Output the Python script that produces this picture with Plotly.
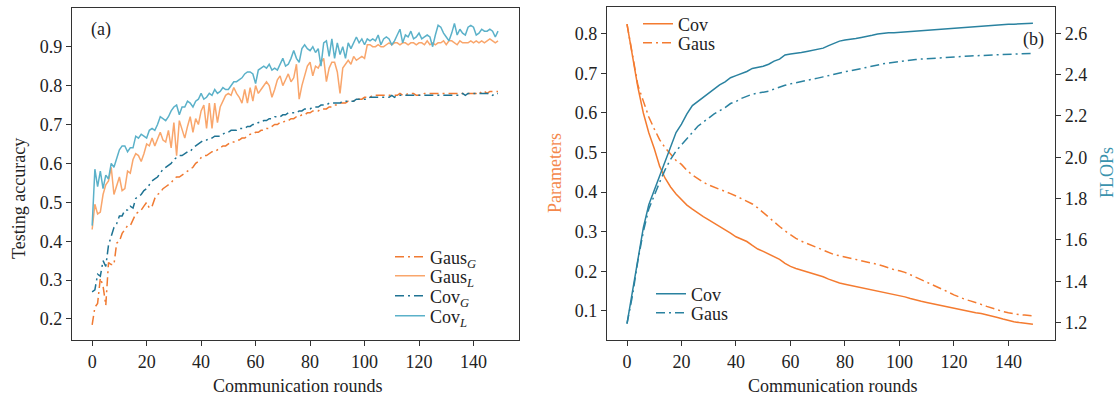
import plotly.graph_objects as go

# ---------------- data ----------------
rounds = list(range(150))

gaus_g = [0.185, 0.23, 0.24, 0.305, 0.285, 0.235, 0.345, 0.34, 0.34, 0.395,
          0.40, 0.42, 0.43, 0.44, 0.44, 0.455, 0.47, 0.475, 0.48, 0.49,
          0.50, 0.485, 0.49, 0.51, 0.52, 0.525, 0.535, 0.54, 0.545, 0.55,
          0.56, 0.565, 0.565, 0.57, 0.575, 0.58, 0.585, 0.59, 0.60, 0.605,
          0.615, 0.62, 0.62, 0.625, 0.63, 0.63, 0.635, 0.64, 0.645, 0.645,
          0.65, 0.655, 0.655, 0.66, 0.66, 0.665, 0.665, 0.67, 0.675, 0.675,
          0.68, 0.68, 0.685, 0.685, 0.69, 0.69, 0.695, 0.70, 0.70, 0.705,
          0.705, 0.71, 0.71, 0.715, 0.715, 0.72, 0.72, 0.725, 0.725, 0.73,
          0.73, 0.735, 0.735, 0.735, 0.74, 0.74, 0.74, 0.745, 0.745, 0.75,
          0.75, 0.755, 0.755, 0.755, 0.76, 0.76, 0.76, 0.765, 0.765, 0.765,
          0.77, 0.77, 0.77, 0.775, 0.775, 0.775, 0.775, 0.775, 0.775, 0.775,
          0.775, 0.775, 0.775, 0.78, 0.775, 0.775, 0.78, 0.78, 0.78, 0.775,
          0.775, 0.775, 0.78, 0.78, 0.78, 0.78, 0.78, 0.78, 0.78, 0.78,
          0.78, 0.78, 0.78, 0.78, 0.78, 0.78, 0.78, 0.78, 0.78, 0.78,
          0.78, 0.78, 0.785, 0.78, 0.785, 0.78, 0.785, 0.785, 0.785, 0.785]

gaus_l = [0.43, 0.495, 0.47, 0.475, 0.52, 0.545, 0.555, 0.59, 0.52, 0.545,
          0.565, 0.53, 0.535, 0.58, 0.575, 0.61, 0.625, 0.62, 0.605, 0.625,
          0.65, 0.645, 0.665, 0.645, 0.665, 0.68, 0.66, 0.655, 0.685, 0.64,
          0.705, 0.62, 0.71, 0.69, 0.665, 0.695, 0.72, 0.68, 0.715, 0.70,
          0.735, 0.75, 0.69, 0.755, 0.69, 0.755, 0.705, 0.745, 0.76, 0.775,
          0.78, 0.775, 0.795, 0.78, 0.77, 0.755, 0.79, 0.755, 0.795, 0.76,
          0.80, 0.78, 0.79, 0.80, 0.81, 0.80, 0.77, 0.79, 0.815, 0.825,
          0.80, 0.815, 0.83, 0.81, 0.82, 0.855, 0.765, 0.80, 0.825, 0.85,
          0.86, 0.825, 0.85, 0.845, 0.86, 0.87, 0.81, 0.845, 0.86, 0.86,
          0.835, 0.78, 0.845, 0.855, 0.865, 0.855, 0.875, 0.865, 0.87, 0.875,
          0.87, 0.905, 0.905, 0.90, 0.90, 0.905, 0.90, 0.90, 0.905, 0.91,
          0.905, 0.91, 0.91, 0.905, 0.91, 0.91, 0.905, 0.91, 0.91, 0.905,
          0.91, 0.91, 0.905, 0.915, 0.905, 0.91, 0.905, 0.91, 0.91, 0.915,
          0.905, 0.915, 0.915, 0.91, 0.905, 0.915, 0.91, 0.91, 0.91, 0.915,
          0.91, 0.915, 0.91, 0.915, 0.91, 0.915, 0.92, 0.915, 0.91, 0.915]

cov_g = [0.27, 0.275, 0.315, 0.31, 0.35, 0.335, 0.39, 0.41, 0.435, 0.445,
         0.465, 0.465, 0.48, 0.48, 0.49, 0.485, 0.51, 0.515, 0.52, 0.53,
         0.535, 0.545, 0.555, 0.56, 0.565, 0.575, 0.585, 0.59, 0.595, 0.60,
         0.61, 0.615, 0.62, 0.62, 0.625, 0.63, 0.63, 0.64, 0.645, 0.65,
         0.655, 0.66, 0.66, 0.665, 0.665, 0.67, 0.67, 0.67, 0.675, 0.68,
         0.68, 0.685, 0.685, 0.685, 0.69, 0.69, 0.69, 0.695, 0.695, 0.70,
         0.70, 0.705, 0.705, 0.71, 0.71, 0.715, 0.715, 0.72, 0.72, 0.72,
         0.725, 0.725, 0.73, 0.73, 0.73, 0.73, 0.735, 0.735, 0.74, 0.74,
         0.74, 0.745, 0.745, 0.745, 0.75, 0.75, 0.75, 0.755, 0.755, 0.755,
         0.755, 0.755, 0.76, 0.76, 0.76, 0.76, 0.76, 0.765, 0.765, 0.765,
         0.765, 0.765, 0.77, 0.77, 0.77, 0.77, 0.77, 0.77, 0.77, 0.77,
         0.775, 0.77, 0.775, 0.775, 0.775, 0.775, 0.775, 0.775, 0.775, 0.775,
         0.775, 0.775, 0.775, 0.775, 0.775, 0.775, 0.775, 0.775, 0.775, 0.775,
         0.775, 0.775, 0.775, 0.775, 0.775, 0.775, 0.78, 0.775, 0.78, 0.78,
         0.78, 0.78, 0.78, 0.78, 0.78, 0.78, 0.78, 0.775, 0.78, 0.78]

cov_l = [0.44, 0.585, 0.54, 0.58, 0.535, 0.57, 0.56, 0.60, 0.59, 0.61,
         0.635, 0.645, 0.645, 0.63, 0.64, 0.64, 0.67, 0.665, 0.675, 0.67,
         0.665, 0.685, 0.69, 0.685, 0.70, 0.72, 0.715, 0.71, 0.72, 0.735,
         0.745, 0.75, 0.725, 0.745, 0.745, 0.76, 0.755, 0.745, 0.76, 0.765,
         0.78, 0.765, 0.77, 0.78, 0.775, 0.79, 0.78, 0.785, 0.795, 0.79,
         0.79, 0.80, 0.81, 0.81, 0.815, 0.82, 0.83, 0.835, 0.835, 0.83,
         0.805, 0.84, 0.845, 0.85, 0.845, 0.855, 0.84, 0.845, 0.84, 0.855,
         0.87, 0.85, 0.855, 0.87, 0.89, 0.87, 0.86, 0.895, 0.905, 0.895,
         0.89, 0.90, 0.885, 0.895, 0.85, 0.91, 0.915, 0.875, 0.92, 0.87,
         0.91, 0.88, 0.90, 0.87, 0.91, 0.895, 0.91, 0.925, 0.91, 0.92,
         0.905, 0.92, 0.915, 0.92, 0.915, 0.93, 0.905, 0.92, 0.925, 0.92,
         0.905, 0.915, 0.93, 0.945, 0.91, 0.93, 0.925, 0.94, 0.92, 0.925,
         0.935, 0.92, 0.925, 0.93, 0.925, 0.90, 0.93, 0.955, 0.95, 0.935,
         0.925, 0.915, 0.935, 0.96, 0.93, 0.945, 0.935, 0.93, 0.95, 0.955,
         0.95, 0.93, 0.935, 0.945, 0.94, 0.94, 0.945, 0.94, 0.925, 0.94]

rounds_b = list(range(0, 150, 2)) + [149]

params_cov = [0.825, 0.745, 0.665, 0.60, 0.55, 0.51, 0.465, 0.435, 0.413, 0.395,
              0.38, 0.367, 0.357, 0.347, 0.338, 0.33, 0.322, 0.313, 0.305, 0.296,
              0.287, 0.282, 0.275, 0.265, 0.256, 0.25, 0.244, 0.238, 0.23, 0.22,
              0.212, 0.207, 0.203, 0.198, 0.194, 0.19, 0.186, 0.18, 0.174, 0.17,
              0.167, 0.164, 0.162, 0.159, 0.156, 0.153, 0.15, 0.148, 0.144, 0.141,
              0.138, 0.135, 0.131, 0.127, 0.124, 0.121, 0.118, 0.115, 0.112, 0.109,
              0.106, 0.103, 0.10, 0.098, 0.095, 0.093, 0.09, 0.087, 0.083, 0.079,
              0.075, 0.072, 0.07, 0.069, 0.067, 0.066]

params_gaus = [0.825, 0.75, 0.67, 0.63, 0.59, 0.56, 0.532, 0.512, 0.495, 0.48,
               0.47, 0.455, 0.443, 0.433, 0.425, 0.418, 0.413, 0.407, 0.402, 0.396,
               0.39, 0.384, 0.377, 0.37, 0.36, 0.348, 0.335, 0.324, 0.313, 0.302,
               0.292, 0.283, 0.276, 0.27, 0.265, 0.259, 0.252, 0.246, 0.242, 0.239,
               0.236, 0.233, 0.23, 0.227, 0.224, 0.221, 0.217, 0.213, 0.208, 0.204,
               0.201, 0.197, 0.191, 0.185, 0.178, 0.172, 0.166, 0.16, 0.154, 0.147,
               0.14, 0.134, 0.129, 0.125, 0.121, 0.116, 0.111, 0.106, 0.102, 0.098,
               0.095, 0.092, 0.09, 0.089, 0.088, 0.087]

flops_cov = [1.195, 1.35, 1.52, 1.66, 1.77, 1.84, 1.91, 1.99, 2.06, 2.12,
             2.16, 2.21, 2.25, 2.27, 2.29, 2.31, 2.33, 2.35, 2.365, 2.385,
             2.395, 2.405, 2.415, 2.43, 2.435, 2.44, 2.45, 2.465, 2.475, 2.495,
             2.50, 2.502, 2.507, 2.512, 2.518, 2.522, 2.528, 2.54, 2.552, 2.562,
             2.567, 2.57, 2.575, 2.58, 2.584, 2.59, 2.596, 2.60, 2.602, 2.603,
             2.605, 2.607, 2.609, 2.611, 2.613, 2.616, 2.618, 2.62, 2.621, 2.623,
             2.626, 2.628, 2.63, 2.632, 2.633, 2.635, 2.636, 2.637, 2.639, 2.641,
             2.643, 2.644, 2.645, 2.646, 2.647, 2.648]

flops_gaus = [1.195, 1.33, 1.50, 1.64, 1.75, 1.82, 1.88, 1.94, 1.99, 2.03,
              2.06, 2.09, 2.12, 2.15, 2.17, 2.19, 2.21, 2.225, 2.24, 2.26,
              2.27, 2.285, 2.295, 2.305, 2.31, 2.315, 2.32, 2.33, 2.34, 2.348,
              2.355, 2.36, 2.366, 2.372, 2.378, 2.383, 2.389, 2.395, 2.403, 2.41,
              2.414, 2.418, 2.424, 2.43, 2.436, 2.442, 2.447, 2.452, 2.456, 2.46,
              2.463, 2.467, 2.47, 2.473, 2.475, 2.477, 2.479, 2.481, 2.483, 2.485,
              2.486, 2.487, 2.488, 2.49, 2.491, 2.492, 2.493, 2.495, 2.496, 2.497,
              2.498, 2.50, 2.50, 2.501, 2.502, 2.503]

x_ticks = [0, 20, 40, 60, 80, 100, 120, 140]

# ---------------- style ----------------
FONT = "Liberation Serif, Times New Roman, serif"
C_GG = "#F07A32"
C_GL = "#F9A66C"
C_CG = "#1F7393"
C_CL = "#5BB1C9"
C_OR = "#F47B30"
C_TE = "#2A82A0"
DASHDOT = "9px,4px,2px,4px"
W = 1.5
TXT = "#222222"

W_FIG, H_FIG = 1119, 398
def px(v):
    return v / W_FIG
def py(v):
    return 1 - v / H_FIG

fig = go.Figure()

fig.add_trace(go.Scatter(x=rounds, y=gaus_g, mode="lines", name="Gaus<sub><i>G</i></sub>",
                         line=dict(color=C_GG, width=W, dash=DASHDOT), legend="legend"))
fig.add_trace(go.Scatter(x=rounds, y=gaus_l, mode="lines", name="Gaus<sub><i>L</i></sub>",
                         line=dict(color=C_GL, width=W), legend="legend2"))
fig.add_trace(go.Scatter(x=rounds, y=cov_g, mode="lines", name="Cov<sub><i>G</i></sub>",
                         line=dict(color=C_CG, width=W, dash=DASHDOT), legend="legend3"))
fig.add_trace(go.Scatter(x=rounds, y=cov_l, mode="lines", name="Cov<sub><i>L</i></sub>",
                         line=dict(color=C_CL, width=W), legend="legend4"))

fig.add_trace(go.Scatter(x=rounds_b, y=params_cov, mode="lines", name="Cov",
                         line=dict(color=C_OR, width=W), xaxis="x2", yaxis="y2", legend="legend5"))
fig.add_trace(go.Scatter(x=rounds_b, y=params_gaus, mode="lines", name="Gaus",
                         line=dict(color=C_OR, width=W, dash=DASHDOT), xaxis="x2", yaxis="y2", legend="legend6"))
fig.add_trace(go.Scatter(x=rounds_b, y=flops_cov, mode="lines", name="Cov",
                         line=dict(color=C_TE, width=W), xaxis="x2", yaxis="y3", legend="legend7"))
fig.add_trace(go.Scatter(x=rounds_b, y=flops_gaus, mode="lines", name="Gaus",
                         line=dict(color=C_TE, width=W, dash=DASHDOT), xaxis="x2", yaxis="y3", legend="legend8"))

axis_common = dict(showline=True, linecolor="#333333", linewidth=1.3, ticks="outside",
                   ticklen=5, tickwidth=1.2, tickcolor="#333333", showgrid=False, zeroline=False,
                   tickfont=dict(family=FONT, size=18, color=TXT), automargin=False)

def leg(x, y):
    return dict(x=px(x), y=py(y), xanchor="left", yanchor="middle",
                font=dict(family=FONT, size=18, color=TXT), bgcolor="rgba(0,0,0,0)",
                borderwidth=0, tracegroupgap=0, itemwidth=30)

fig.update_layout(
    width=W_FIG, height=H_FIG,
    margin=dict(l=0, r=0, t=0, b=0),
    paper_bgcolor="white", plot_bgcolor="white",
    font=dict(family=FONT, size=18, color=TXT),
    xaxis=dict(domain=[px(72), px(519)], range=[-7.4, 156.7], tickvals=x_ticks,
               mirror=True, anchor="y", **axis_common),
    yaxis=dict(domain=[py(340), py(8)], range=[0.146, 0.9995], dtick=0.1, tick0=0,
               tickformat=".1f", mirror=True, anchor="x", **axis_common),
    xaxis2=dict(domain=[px(607), px(1055)], range=[-7.34, 157.1], tickvals=x_ticks,
                mirror=True, anchor="y2", **axis_common),
    yaxis2=dict(domain=[py(340), py(7)], range=[0.026, 0.868], dtick=0.1, tick0=0,
                tickformat=".1f", anchor="x2", **axis_common),
    yaxis3=dict(domain=[py(340), py(7)], range=[1.116, 2.727], dtick=0.2, tick0=0,
                tickformat=".1f", anchor="x2", overlaying="y2", side="right", **axis_common),
    legend=leg(390, 257),
    legend2=leg(390, 276),
    legend3=leg(390, 296),
    legend4=leg(390, 316),
    legend5=leg(638, 24),
    legend6=leg(638, 43),
    legend7=leg(651, 294),
    legend8=leg(651, 313),
    showlegend=True,
)

def ann(text, x, y, size=18, color=TXT, angle=0):
    return dict(text=text, x=px(x), y=py(y), xref="paper", yref="paper", showarrow=False,
                xanchor="center", yanchor="middle", textangle=angle,
                font=dict(family=FONT, size=size, color=color))

fig.update_layout(annotations=[
    ann("(a)", 101, 30),
    ann("(b)", 1033, 39),
    ann("Communication rounds", 298, 386),
    ann("Communication rounds", 833, 386),
    ann("Testing accuracy", 19, 199, angle=-90),
    ann("Parameters", 555, 173, color="#F4874A", angle=-90),
    ann("FLOPs", 1107, 173, color="#3A93AE", angle=-90),
])

fig.write_html("out.html")
